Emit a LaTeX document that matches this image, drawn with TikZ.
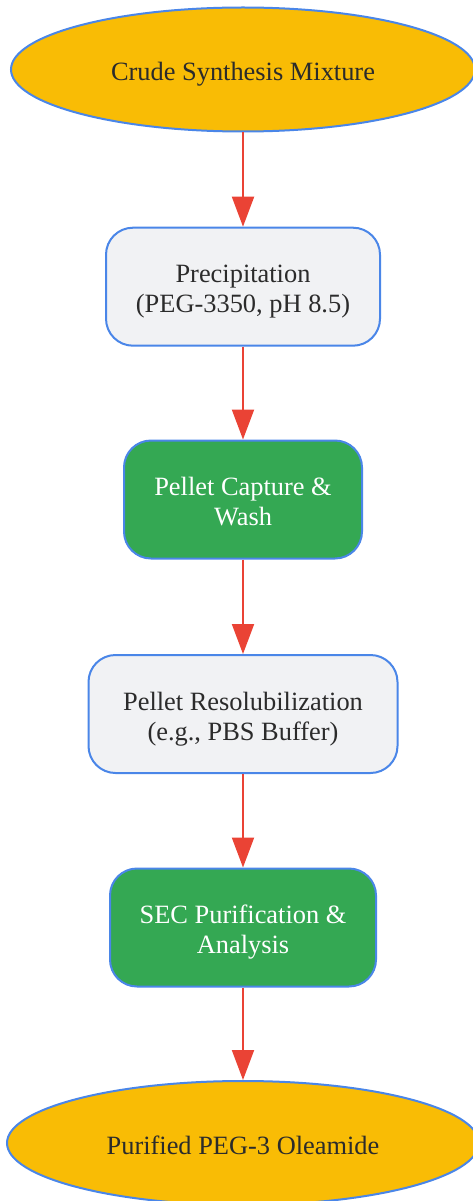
\documentclass[tikz,border=0pt]{standalone}
\usepackage{fontspec}
\setmainfont{Liberation Serif}
\usetikzlibrary{shapes.geometric,arrows.meta}
\definecolor{gYellow}{HTML}{F9BC05}
\definecolor{gGreen}{HTML}{34A853}
\definecolor{gGrey}{HTML}{F1F2F4}
\definecolor{gBlue}{HTML}{4A86E8}
\definecolor{gRed}{HTML}{EA4335}
\definecolor{gText}{HTML}{2B2B2B}
\begin{document}
\begin{tikzpicture}[x=1pt, y=-1pt, font=\fontsize{26.4}{30}\selectfont, >={Triangle[length=30pt, width=22pt]}]
    \tikzstyle{end_style} = [ellipse, draw=gBlue, line width=2pt, fill=gYellow, text=gText, inner sep=0pt, text height=28.7pt, text depth=5.7pt]
    \tikzstyle{grey_box} = [rectangle, rounded corners=27pt, draw=gBlue, line width=2pt, fill=gGrey, text=gText, align=center, minimum height=118pt, text height=57.7pt, text depth=5.7pt]
    \tikzstyle{green_box} = [rectangle, rounded corners=27pt, draw=gBlue, line width=2pt, fill=gGreen, text=white, align=center, minimum height=118pt, text height=57.7pt, text depth=5.7pt]
    \tikzstyle{red_arrow} = [->, gRed, line width=2pt]

    \useasboundingbox (0,0) rectangle (473,1201);

    \node[end_style, minimum width=464pt, minimum height=124pt] (nCrude) at (243,69.5) {Crude Synthesis Mixture};
    \node[grey_box, minimum width=274pt] (nPrecip) at (243,286.7) {Precipitation\\(PEG-3350, pH 8.5)};
    \node[green_box, minimum width=238pt] (nPellet) at (243,499.5) {Pellet Capture \&\\Wash};
    \node[grey_box, minimum width=309pt] (nResol) at (243,714) {Pellet Resolubilization\\(e.g., PBS Buffer)};
    \node[green_box, minimum width=266pt] (nSec) at (243,927.5) {SEC Purification \&\\Analysis};
    \node[end_style, minimum width=472pt, minimum height=124pt] (nPure) at (243,1143) {Purified PEG-3 Oleamide};

    \draw[red_arrow] (nCrude) edge (nPrecip);
    \draw[red_arrow] (nPrecip) edge (nPellet);
    \draw[red_arrow] (nPellet) edge (nResol);
    \draw[red_arrow] (nResol) edge (nSec);
    \draw[red_arrow] (nSec) edge (nPure);
\end{tikzpicture}
\end{document}
